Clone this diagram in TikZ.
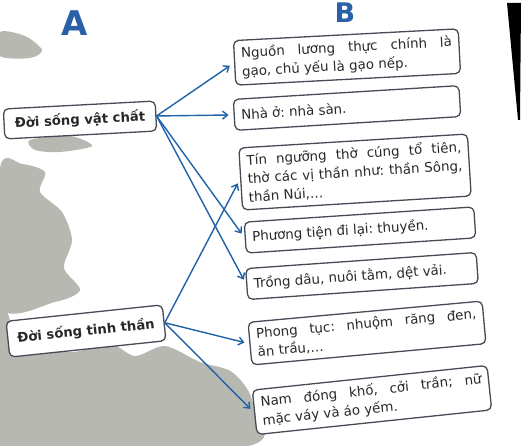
\documentclass[tikz,border=0pt]{standalone}
\usepackage{fontspec}
\setmainfont{DejaVu Sans}
\newfontfamily\headfont{DejaVu Sans}
\usetikzlibrary{arrows.meta}

\definecolor{linkblue}{RGB}{32,98,168}
\definecolor{boxgray}{RGB}{70,76,86}
\definecolor{inkgray}{RGB}{40,40,40}
\definecolor{mapgray}{RGB}{184,184,178}
\definecolor{letterblue}{RGB}{42,96,168}

\begin{document}
\frenchspacing
\begin{tikzpicture}[x=1pt, y=-1pt, line cap=round, line join=round,
    sidebox/.style={draw=boxgray, line width=1.3pt, rounded corners=5pt, fill=white,
      text=inkgray, font=\fontsize{13.2}{18}\selectfont\bfseries, inner xsep=7pt, inner ysep=6pt},
    itembox/.style={draw=boxgray, line width=1.3pt, rounded corners=5pt, fill=white,
      text=inkgray, font=\fontsize{13.4}{18.5}\selectfont, text width=#1, align=justify,
      inner xsep=7pt, inner ysep=6pt, minimum height=31pt},
    link/.style={draw=linkblue, line width=1.4pt, -{Straight Barb[length=5pt,width=8pt]}, shorten >=5pt},
    colhead/.style={text=letterblue, font=\headfont\bfseries\fontsize{34}{34}\selectfont, inner sep=0pt}]
      \path[use as bounding box] (0,0) rectangle (524,446);

      % background map
      \fill[mapgray] plot[smooth cycle] coordinates {(0,32) (25,36) (42,50) (30,58) (0,56)};
      \fill[mapgray] plot[smooth cycle] coordinates {(30,140) (70,136) (92,146) (60,152) (35,150)};
      \fill[mapgray] plot[smooth cycle] coordinates {(0,168) (22,164) (45,172) (40,192) (62,212) (72,240)
        (64,268) (80,290) (55,302) (0,306)};
      \fill[mapgray] plot[smooth cycle] coordinates {(0,300) (20,340) (70,352) (110,344) (135,356) (165,346)
        (200,362) (232,372) (252,400) (248,446) (0,446)};

      % page edge
      \fill[black] (507,3) -- (521,3) -- (520,120) -- (518,120) -- cycle;

      \node[colhead] (headA) at (75,23) {A};
      \node[colhead, font=\headfont\bfseries\fontsize{27}{27}\selectfont] (headB) at (345,13) {B};

      \node[sidebox, rotate=3, minimum width=152pt, minimum height=30pt] (vatchat) at (80,120) {Đời sống vật chất};
      \node[sidebox, rotate=6, minimum width=157pt, minimum height=36pt] (tinhthan) at (86,331) {Đời sống tinh thần};

      \node[itembox=211pt, rotate=3] (luongthuc) at (347,57) {Nguồn lương thực chính là\linebreak gạo, chủ yếu là gạo nếp.};
      \node[itembox=212pt, rotate=3.5] (nhao) at (347,108) {Nhà ở: nhà sàn.};
      \node[itembox=215pt, rotate=3.5] (tinnguong) at (355,172) {Tín ngưỡng thờ cúng tổ tiên,\linebreak thờ các vị thần như: thần Sông,\linebreak thần Núi,\ldots};
      \node[itembox=216pt, rotate=3.8] (phuongtien) at (360,230) {Phương tiện đi lại: thuyền.};
      \node[itembox=217pt, rotate=4] (trongdau) at (362,276) {Trồng dâu, nuôi tằm, dệt vải.};
      \node[itembox=221pt, rotate=5.2] (phongtuc) at (367,333) {Phong tục: nhuộm răng đen,\linebreak ăn trầu,\ldots};
      \node[itembox=222pt, rotate=6] (trangphuc) at (372,400) {Nam đóng khố, cởi trần; nữ\linebreak mặc váy và áo yếm.};

      \draw[link] (vatchat.east) -- (luongthuc.west);
      \draw[link] (vatchat.east) -- (nhao.west);
      \draw[link] (vatchat.east) -- (phuongtien.west);
      \draw[link] (vatchat.east) -- (trongdau.west);

      \draw[link] (tinhthan.east) -- (tinnguong.west);
      \draw[link] (tinhthan.east) -- (phongtuc.west);
      \draw[link] (tinhthan.east) -- (trangphuc.west);

    \end{tikzpicture}
\end{document}
